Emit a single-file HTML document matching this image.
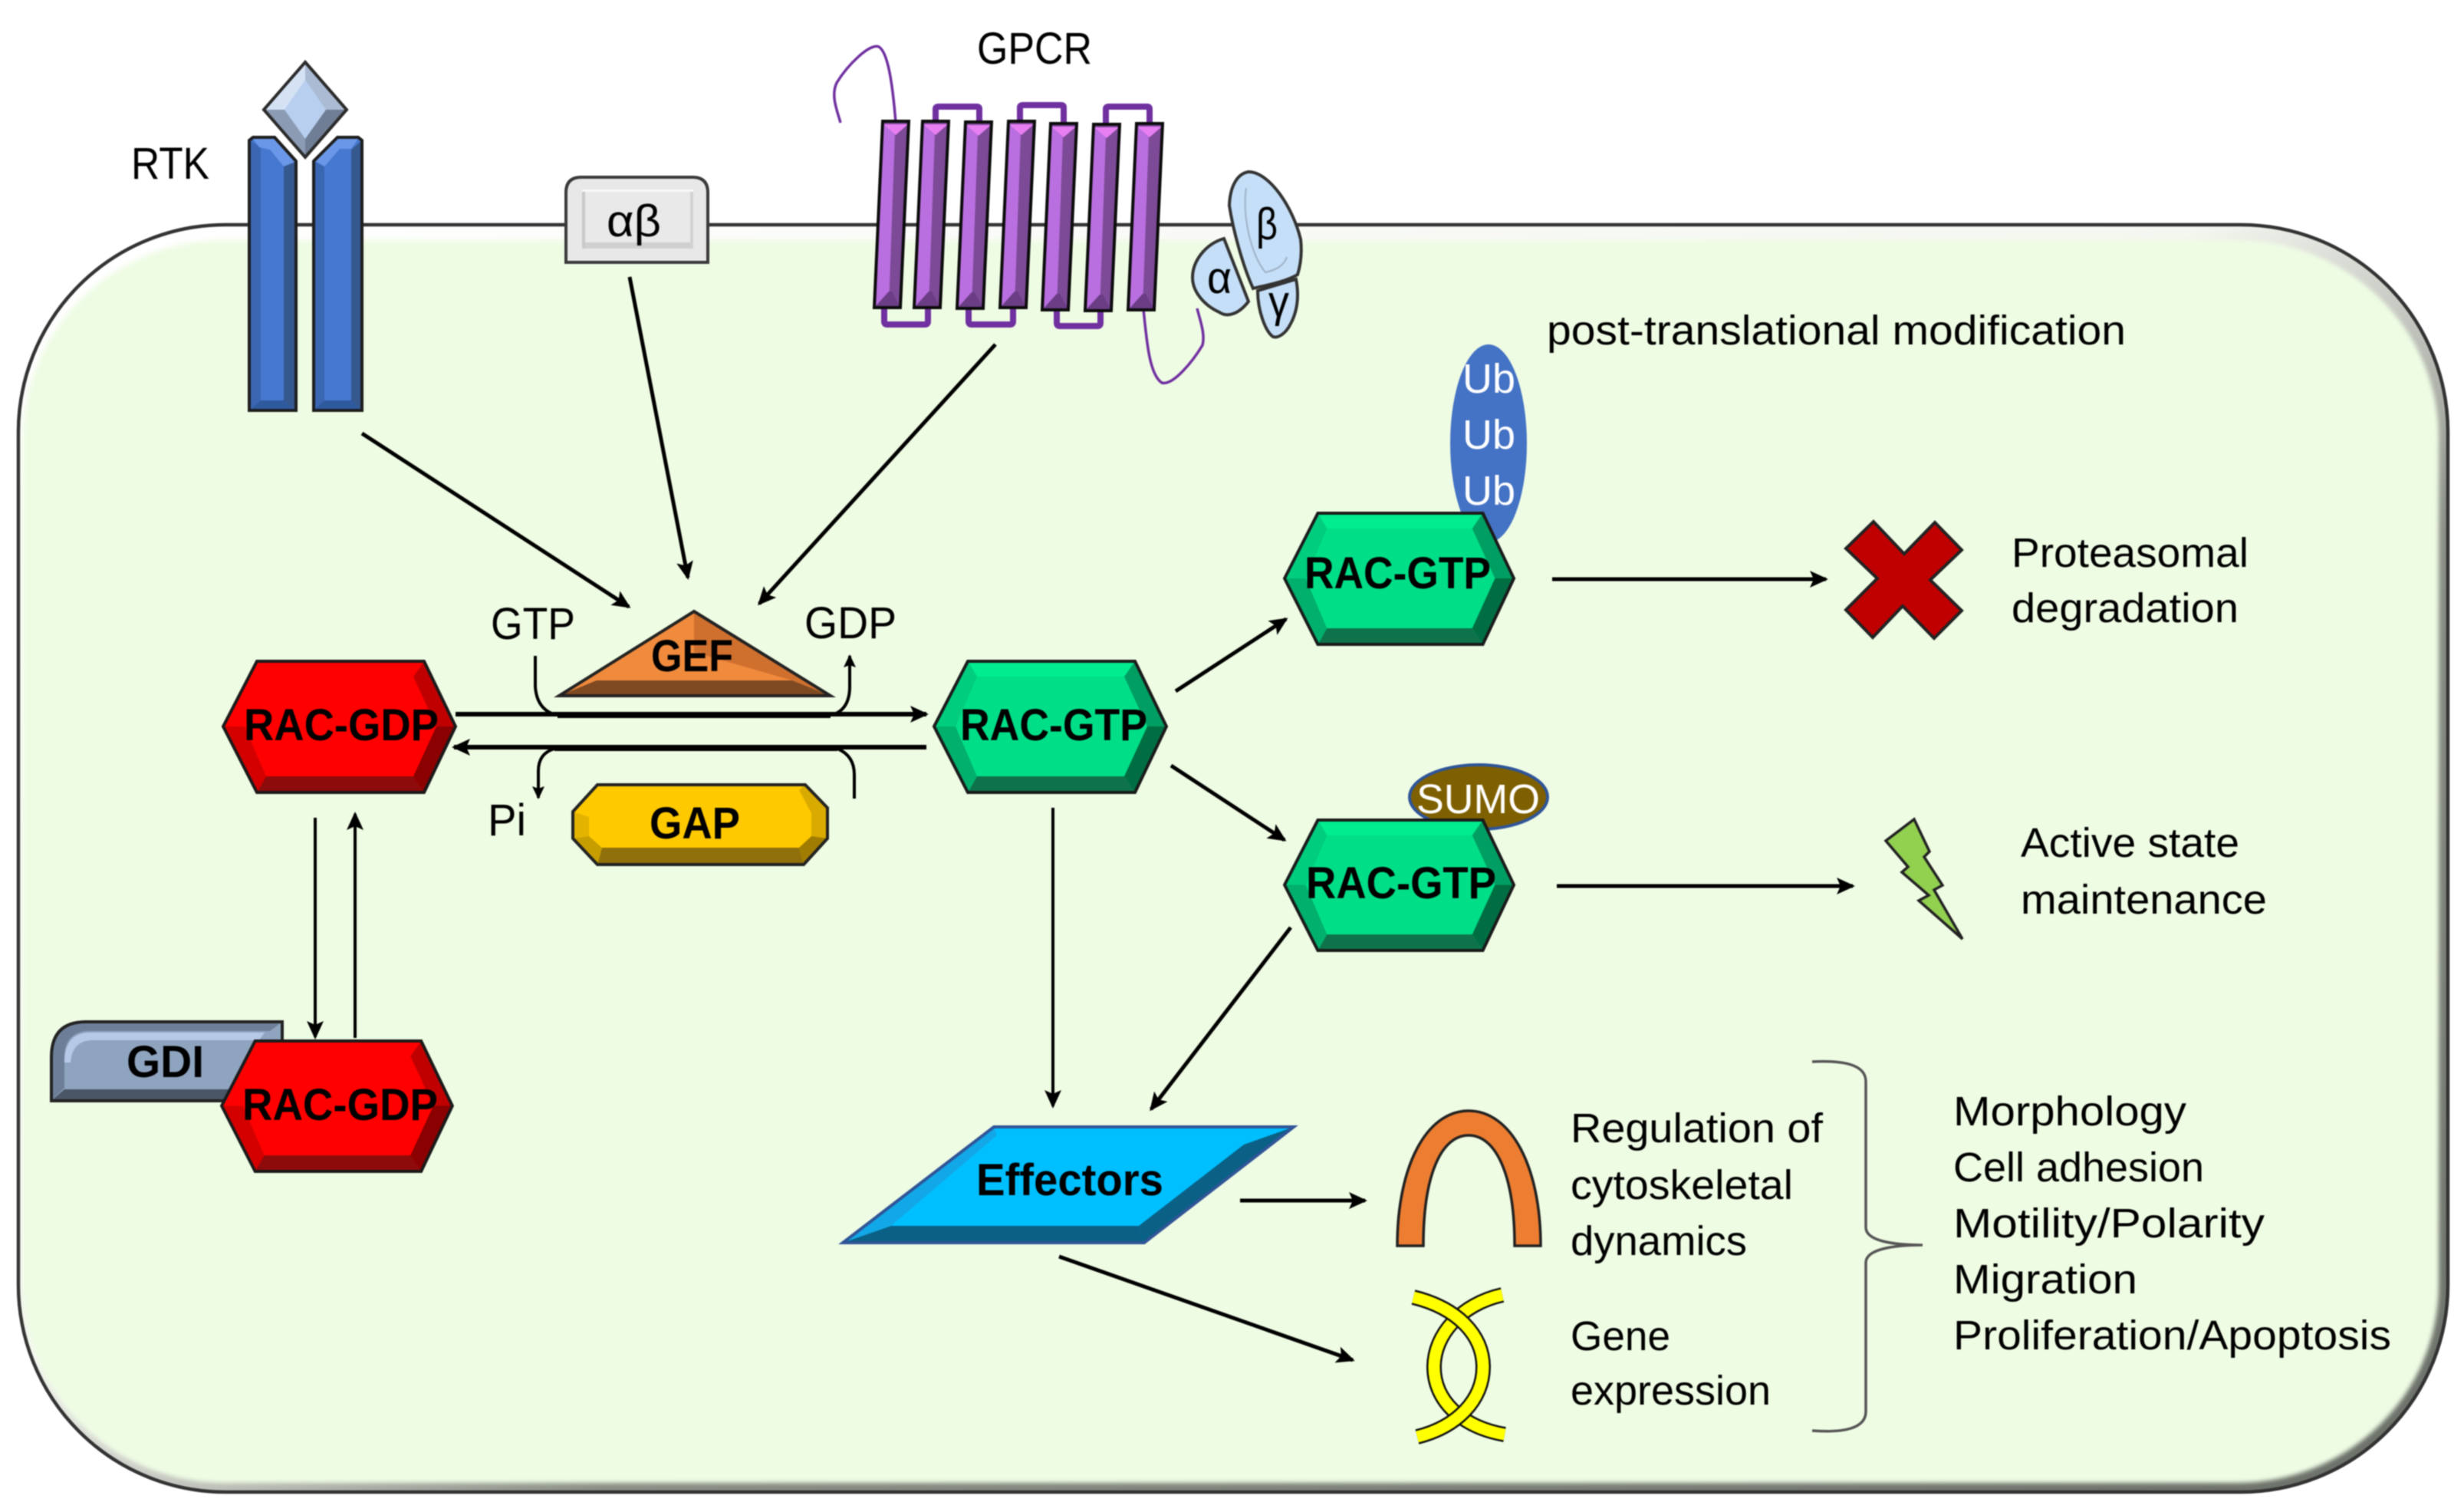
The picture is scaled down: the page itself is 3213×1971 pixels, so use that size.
<!DOCTYPE html>
<html><head><meta charset="utf-8"><title>RAC signalling</title>
<style>
html,body{margin:0;padding:0;background:#fff;width:3213px;height:1971px;overflow:hidden}
svg{display:block;filter:blur(.7px)}
text{font-family:"Liberation Sans",sans-serif;fill:#000}
.b{font-weight:bold;font-size:58px}
.r{font-size:54px}
.g{font-size:58px}
.w{fill:#fff}
.a{stroke:#000;stroke-width:5;fill:none;marker-end:url(#m1)}
.t{stroke:#000;stroke-width:4;fill:none;marker-end:url(#m2)}
</style></head><body>
<svg width="3213" height="1971" viewBox="0 0 3213 1971" xmlns="http://www.w3.org/2000/svg">
<defs>
<linearGradient id="bev" x1="0" y1="0" x2="1" y2="1"><stop offset="0" stop-color="#fff"/><stop offset=".45" stop-color="#f4f6f0"/><stop offset=".62" stop-color="#8a8f86"/><stop offset="1" stop-color="#6a6f68"/></linearGradient>
<marker id="m1" markerUnits="userSpaceOnUse" markerWidth="26" markerHeight="24" refX="21" refY="12" orient="auto"><path d="M0,1 L24,12 L0,23 L5,12z" fill="#000"/></marker>
<marker id="m2" markerUnits="userSpaceOnUse" markerWidth="20" markerHeight="20" refX="15" refY="9" orient="auto"><path d="M0,1 L17,9 L0,17 L3,9z" fill="#000"/></marker>
<filter id="soft" x="-2%" y="-2%" width="104%" height="104%"><feGaussianBlur stdDeviation="3"/></filter>
<g id="hexR">
<polygon points="0,85 44,0 262,0 303,85 262,171 44,171" fill="#ff0000"/>
<polygon points="262,0 303,85 278,85 248,20" fill="#c00000"/>
<polygon points="303,85 262,171 248,150 278,85" fill="#8b0000"/>
<polygon points="44,171 262,171 248,150 56,150" fill="#8e0b0b"/>
<polygon points="0,85 44,171 56,150 28,85" fill="#d40000"/>
<polygon points="0,85 44,171 262,171 303,85 262,0 44,0" fill="none" stroke="#1a1a1a" stroke-width="4"/>
</g>
<g id="hexG">
<polygon points="0,85 44,0 262,0 303,85 262,171 44,171" fill="#00de88"/>
<polygon points="44,0 262,0 248,20 56,20" fill="#00ec8e"/>
<polygon points="262,0 303,85 278,85 248,20" fill="#009e62"/>
<polygon points="303,85 262,171 248,150 278,85" fill="#006e42"/>
<polygon points="44,171 262,171 248,150 56,150" fill="#0e734b"/>
<polygon points="0,85 44,171 56,150 28,85" fill="#00b06c"/>
<polygon points="0,85 44,0 56,20 28,85" fill="#00cd7e"/>
<polygon points="0,85 44,171 262,171 303,85 262,0 44,0" fill="none" stroke="#1a1a1a" stroke-width="4"/>
</g>
<g id="hx">
<polygon points="11,0 45,0 34,243 0,243" fill="#7c4a96"/>
<polygon points="11,2 27,16 19,243 0,243" fill="#b96fdf"/>
<polygon points="0,243 19,222 23,222 34,243" fill="#6a3d85"/>
<polygon points="12,4 44,4 28,18" fill="#e77ff2"/>
<polygon points="11,0 45,0 34,243 0,243" fill="none" stroke="#0c0c0c" stroke-width="4"/>
</g>
</defs>

<!-- Cell -->
<rect x="24" y="293" width="3168" height="1652" rx="270" ry="270" fill="url(#bev)" stroke="#333" stroke-width="4.5"/>
<rect x="30" y="313" width="3150" height="1620" rx="262" ry="258" fill="#effce4" filter="url(#soft)"/>

<!-- RTK -->
<polygon points="325,183 330,179 358,179 386,210 386,535 325,535" fill="#4778cf" stroke="#1e1e1e" stroke-width="4"/>
<polygon points="370,215 386,210 386,535 370,522" fill="#35588f"/>
<polygon points="325,535 386,535 370,522 340,522" fill="#2f5a9e"/>
<polygon points="325,183 340,192 340,522 325,535" fill="#3a66b2"/>
<polygon points="330,181 358,181 385,211 370,217 352,195 338,192" fill="#6a97e8"/>
<polygon points="325,183 330,179 358,179 386,210 386,535 325,535" fill="none" stroke="#1e1e1e" stroke-width="4"/>
<polygon points="409,210 440,179 467,179 472,183 472,535 409,535" fill="#4778cf"/>
<polygon points="458,195 472,183 472,535 458,522" fill="#35588f"/>
<polygon points="409,535 472,535 458,522 423,522" fill="#2f5a9e"/>
<polygon points="409,210 423,217 423,522 409,535" fill="#3a66b2"/>
<polygon points="411,210 440,181 467,181 458,194 443,194 423,217" fill="#6a97e8"/>
<polygon points="409,210 440,179 467,179 472,183 472,535 409,535" fill="none" stroke="#1e1e1e" stroke-width="4"/>
<polygon points="398,81 452,143 398,205 344,143" fill="#b8cfef"/>
<polygon points="398,81 452,143 425,143 398,104" fill="#aabbd3"/>
<polygon points="398,81 344,143 371,143 398,104" fill="#d5e2f4"/>
<polygon points="344,143 398,205 398,181 371,143" fill="#8b9bb3"/>
<polygon points="452,143 398,205 398,181 425,143" fill="#6f7e95"/>
<polygon points="398,81 452,143 398,205 344,143" fill="none" stroke="#2b2b2b" stroke-width="4"/>
<text x="171" y="233" class="g" textLength="102" lengthAdjust="spacingAndGlyphs">RTK</text>

<!-- alpha beta box -->
<path d="M738,342 L738,251 Q738,231 758,231 L903,231 Q923,231 923,251 L923,342Z" fill="#e8e8e8" stroke="#3a3a3a" stroke-width="4"/>
<rect x="759" y="250" width="145" height="74" fill="#e9e9e9"/>
<rect x="759" y="316" width="145" height="8" fill="#cfcfcf"/>
<rect x="759" y="247" width="145" height="3" fill="#f8f8f8"/>
<rect x="759" y="250" width="4" height="74" fill="#c9c9c9"/>
<rect x="900" y="250" width="4" height="74" fill="#d2d2d2"/>
<text x="791" y="308" class="g" textLength="71" lengthAdjust="spacingAndGlyphs">αβ</text>

<!-- GPCR -->
<g fill="none" stroke="#7030a0">
<path d="M1168,160 C1164,110 1158,68 1146,61 C1134,56 1105,85 1091,108 C1083,125 1092,145 1096,160" stroke-width="3.5"/>
<path d="M1491,403 C1495,440 1498,488 1515,499 C1530,503 1556,470 1568,450 C1572,435 1564,415 1561,402" stroke-width="3.5"/>
<path d="M1220,160 V142 Q1220,139 1224,139 H1274 Q1277,139 1277,142 V160 M1330,160 V140 Q1330,137 1334,137 H1384 Q1387,137 1387,140 V160 M1442,162 V142 Q1442,139 1446,139 H1496 Q1499,139 1499,142 V162" stroke-width="8"/>
<path d="M1153,401 V419 Q1153,423 1157,423 H1206 Q1210,423 1210,419 V401 M1263,403 V419 Q1263,423 1267,423 H1317 Q1321,423 1321,419 V403 M1378,403 V421 Q1378,425 1382,425 H1431 Q1435,425 1435,421 V406" stroke-width="8"/>
</g>
<use href="#hx" transform="translate(1140,158)"/>
<use href="#hx" transform="translate(1192,158)"/>
<use href="#hx" transform="translate(1248,159)"/>
<use href="#hx" transform="translate(1304,158)"/>
<use href="#hx" transform="translate(1359,161)"/>
<use href="#hx" transform="translate(1415,162)"/>
<use href="#hx" transform="translate(1471,161)"/>
<text x="1274" y="83" class="g" textLength="150" lengthAdjust="spacingAndGlyphs">GPCR</text>

<!-- G proteins -->
<path d="M1628,224 C1655,224 1686,270 1696,312 C1698,330 1696,345 1692,358 C1675,368 1650,372 1634,376 C1620,345 1608,300 1603,268 C1604,240 1615,226 1628,224Z" fill="#c5dff8" stroke="#333" stroke-width="4"/>
<path d="M1625,245 C1620,280 1630,330 1650,355 C1665,352 1675,345 1678,335" fill="none" stroke="#9fb2c6" stroke-width="2"/>
<path d="M1596,311 L1628,393 C1615,410 1600,414 1590,407 C1570,398 1555,380 1555,362 C1555,340 1572,318 1596,311Z" fill="#c5dff8" stroke="#333" stroke-width="4"/>
<path d="M1640,379 L1690,364 C1694,385 1692,405 1683,422 C1676,436 1666,441 1660,439 C1650,432 1640,405 1640,379Z" fill="#c5dff8" stroke="#333" stroke-width="4"/>
<text x="1638" y="312" class="g" textLength="28" lengthAdjust="spacingAndGlyphs">β</text>
<text x="1574" y="382" class="g" textLength="32" lengthAdjust="spacingAndGlyphs">α</text>
<text x="1654" y="413" class="g" textLength="27" lengthAdjust="spacingAndGlyphs">γ</text>

<!-- Arrows upper -->
<path class="a" d="M472,565 L820,791"/>
<path class="a" d="M821,361 L897,753"/>
<path class="a" d="M1298,449 L990,787"/>

<!-- Central area -->
<polygon points="905,797 1083,907 729,907" fill="#f08a3c"/>
<polygon points="905,797 1083,907 1033,887 905,850" fill="#cf702f"/>
<polygon points="729,907 1083,907 1033,887 778,887" fill="#7f4a22"/>
<polygon points="905,797 1083,907 729,907" fill="none" stroke="#222" stroke-width="4"/>
<text x="849" y="875" class="b" textLength="107" lengthAdjust="spacingAndGlyphs">GEF</text>
<text x="640" y="833" class="g" textLength="110" lengthAdjust="spacingAndGlyphs">GTP</text>
<text x="1049" y="832" class="g" textLength="120" lengthAdjust="spacingAndGlyphs">GDP</text>
<text x="636" y="1089" class="g" textLength="50" lengthAdjust="spacingAndGlyphs">Pi</text>

<use href="#hexR" transform="translate(291,862)"/>
<text x="318" y="965" class="b" textLength="254" lengthAdjust="spacingAndGlyphs">RAC-GDP</text>
<use href="#hexG" transform="translate(1218,862)"/>
<text x="1252" y="965" class="b" textLength="244" lengthAdjust="spacingAndGlyphs">RAC-GTP</text>

<line x1="727" y1="932" x2="1083" y2="932" stroke="#000" stroke-width="8"/>
<line x1="723" y1="975" x2="1092" y2="975" stroke="#000" stroke-width="8"/>
<path class="a" d="M594,931 L1208,931" style="stroke-width:6"/>
<path class="a" d="M1208,974 L592,974" style="stroke-width:6"/>
<path d="M698,855 L698,895 Q700,925 725,932" fill="none" stroke="#000" stroke-width="4"/>
<path class="t" d="M1085,932 Q1108,925 1108,895 L1108,855"/>
<path class="t" d="M723,976 Q702,982 702,1005 L702,1040"/>
<path d="M1092,976 Q1114,985 1114,1010 L1114,1041" fill="none" stroke="#000" stroke-width="4"/>

<!-- GAP -->
<polygon points="747,1058 779,1023 1050,1023 1079,1053 1079,1093 1048,1127 779,1127 747,1093" fill="#ffc900"/>
<polygon points="1050,1023 1079,1053 1079,1093 1058,1090 1058,1060 1042,1030" fill="#d9ab00"/>
<polygon points="1079,1093 1048,1127 1042,1105 1058,1090" fill="#a07c00"/>
<polygon points="779,1127 1048,1127 1042,1105 785,1105" fill="#8f700a"/>
<polygon points="747,1093 779,1127 785,1105 768,1090" fill="#c79e00"/>
<polygon points="747,1058 768,1065 768,1090 747,1093" fill="#e2b400"/>
<polygon points="747,1058 779,1023 1050,1023 1079,1053 1079,1093 1048,1127 779,1127 747,1093" fill="none" stroke="#222" stroke-width="4"/>
<text x="847" y="1093" class="b" textLength="118" lengthAdjust="spacingAndGlyphs">GAP</text>

<!-- GDI and lower RAC-GDP -->
<path d="M67,1435 L67,1378 Q67,1332 112,1332 L368,1332 L368,1435Z" fill="#8fa4bf"/>
<path d="M67,1435 L67,1378 Q67,1332 112,1332 L368,1332 L352,1344 L112,1344 Q84,1348 84,1378 L84,1418Z" fill="#6d7f98"/>
<path d="M84,1385 Q84,1346 118,1346 L345,1346 L338,1356 L118,1356 Q94,1358 92,1385Z" fill="#b6cae8"/>
<polygon points="67,1435 368,1435 368,1420 84,1420" fill="#4a5566"/>
<path d="M67,1435 L67,1378 Q67,1332 112,1332 L368,1332 L368,1435Z" fill="none" stroke="#222" stroke-width="4"/>
<text x="165" y="1404" class="b" textLength="101" lengthAdjust="spacingAndGlyphs">GDI</text>
<use href="#hexR" transform="translate(289,1357) scale(.993,.994)"/>
<text x="316" y="1460" class="b" textLength="255" lengthAdjust="spacingAndGlyphs">RAC-GDP</text>
<path class="t" d="M411,1066 L411,1352" style="marker-end:url(#m1)"/>
<path class="t" d="M463,1353 L463,1061" style="marker-end:url(#m1)"/>

<!-- Ub / RAC-GTP top -->
<ellipse cx="1941" cy="578" rx="50" ry="129" fill="#4472c4"/>
<text x="1907" y="512" class="r w" textLength="69" lengthAdjust="spacingAndGlyphs">Ub</text>
<text x="1907" y="585" class="r w" textLength="69" lengthAdjust="spacingAndGlyphs">Ub</text>
<text x="1907" y="658" class="r w" textLength="69" lengthAdjust="spacingAndGlyphs">Ub</text>
<use href="#hexG" transform="translate(1675,669) scale(.987,1)"/>
<text x="1701" y="767" class="b" textLength="243" lengthAdjust="spacingAndGlyphs">RAC-GTP</text>

<!-- SUMO / RAC-GTP bottom -->
<ellipse cx="1928" cy="1039" rx="90" ry="42" fill="#7f6000" stroke="#2f5597" stroke-width="4"/>
<text x="1847" y="1060" class="r w" textLength="161" lengthAdjust="spacingAndGlyphs">SUMO</text>
<use href="#hexG" transform="translate(1675,1069) scale(.987,.994)"/>
<text x="1703" y="1171" class="b" textLength="248" lengthAdjust="spacingAndGlyphs">RAC-GTP</text>

<!-- Arrows right -->
<path class="a" d="M1533,901 L1677,807"/>
<path class="a" d="M1527,998 L1675,1095"/>
<path class="a" d="M2024,755 L2381,755"/>
<path class="a" d="M2030,1155 L2416,1155"/>
<path class="a" d="M1373,1053 L1373,1442" style="stroke-width:4"/>
<path class="a" d="M1683,1209 L1501,1446"/>
<path class="a" d="M1617,1565 L1780,1565"/>
<path class="a" d="M1381,1638 L1764,1773"/>

<!-- X -->
<polygon points="2443,680 2483,722 2523,681 2558,717 2517,756 2558,796 2522,832 2481,790 2442,831 2407,795 2448,754 2407,715" fill="#c00000" stroke="#222" stroke-width="4"/>
<!-- Lightning -->
<polygon points="2496,1068 2516,1110 2509,1117 2533,1154 2522,1160 2559,1224 2502,1174 2515,1167 2480,1137 2488,1130 2459,1096" fill="#92d050" stroke="#222" stroke-width="3.5"/>

<!-- Effectors -->
<polygon points="1296,1469 1687,1469 1492,1620 1099,1620" fill="#00bfff"/>
<polygon points="1687,1469 1492,1620 1485,1598 1622,1492" fill="#0b6085"/>
<polygon points="1099,1620 1492,1620 1485,1598 1162,1598" fill="#0b6085"/>
<polygon points="1099,1620 1296,1469 1300,1480 1162,1598" fill="#12a8e8"/>
<polygon points="1296,1469 1687,1469 1492,1620 1099,1620" fill="none" stroke="#2f5597" stroke-width="4"/>
<text x="1273" y="1558" class="b" textLength="244" lengthAdjust="spacingAndGlyphs">Effectors</text>

<!-- Orange arch -->
<path d="M1822,1624 C1822,1520 1860,1448 1915,1448 C1970,1448 2009,1520 2009,1624 L1975,1624 C1975,1530 1950,1480 1915,1480 C1880,1480 1856,1530 1856,1624Z" fill="#ed7d31" stroke="#222" stroke-width="3.5"/>
<!-- Yellow helix -->
<g fill="none">
<path d="M1959,1688 C1905,1700 1870,1740 1870,1782 C1870,1825 1905,1860 1962,1870" stroke="#111" stroke-width="20"/>
<path d="M1959,1688 C1905,1700 1870,1740 1870,1782 C1870,1825 1905,1860 1962,1870" stroke="#ffff00" stroke-width="15"/>
<path d="M1843,1691 C1900,1705 1934,1740 1934,1782 C1934,1825 1900,1860 1848,1873" stroke="#111" stroke-width="20"/>
<path d="M1843,1691 C1900,1705 1934,1740 1934,1782 C1934,1825 1900,1860 1848,1873" stroke="#ffff00" stroke-width="15"/>
</g>

<!-- Brace -->
<path d="M2363,1384 C2405,1382 2433,1388 2433,1410 L2433,1600 C2433,1618 2470,1623 2507,1623 C2470,1623 2433,1628 2433,1646 L2433,1840 C2433,1862 2405,1868 2363,1865" fill="none" stroke="#555" stroke-width="3.5"/>

<!-- Right-hand text -->
<text x="2017" y="449" class="r" textLength="755" lengthAdjust="spacingAndGlyphs">post-translational modification</text>
<text x="2623" y="739" class="r" textLength="309" lengthAdjust="spacingAndGlyphs">Proteasomal</text>
<text x="2623" y="811" class="r" textLength="296" lengthAdjust="spacingAndGlyphs">degradation</text>
<text x="2635" y="1117" class="r" textLength="285" lengthAdjust="spacingAndGlyphs">Active state</text>
<text x="2635" y="1191" class="r" textLength="321" lengthAdjust="spacingAndGlyphs">maintenance</text>
<text x="2048" y="1489" class="r" textLength="329" lengthAdjust="spacingAndGlyphs">Regulation of</text>
<text x="2048" y="1563" class="r" textLength="290" lengthAdjust="spacingAndGlyphs">cytoskeletal</text>
<text x="2048" y="1636" class="r" textLength="230" lengthAdjust="spacingAndGlyphs">dynamics</text>
<text x="2048" y="1760" class="r" textLength="130" lengthAdjust="spacingAndGlyphs">Gene</text>
<text x="2048" y="1831" class="r" textLength="261" lengthAdjust="spacingAndGlyphs">expression</text>
<text x="2547" y="1467" class="r" textLength="304" lengthAdjust="spacingAndGlyphs">Morphology</text>
<text x="2547" y="1540" class="r" textLength="327" lengthAdjust="spacingAndGlyphs">Cell adhesion</text>
<text x="2547" y="1613" class="r" textLength="406" lengthAdjust="spacingAndGlyphs">Motility/Polarity</text>
<text x="2547" y="1686" class="r" textLength="240" lengthAdjust="spacingAndGlyphs">Migration</text>
<text x="2547" y="1759" class="r" textLength="571" lengthAdjust="spacingAndGlyphs">Proliferation/Apoptosis</text>
</svg>
</body></html>
